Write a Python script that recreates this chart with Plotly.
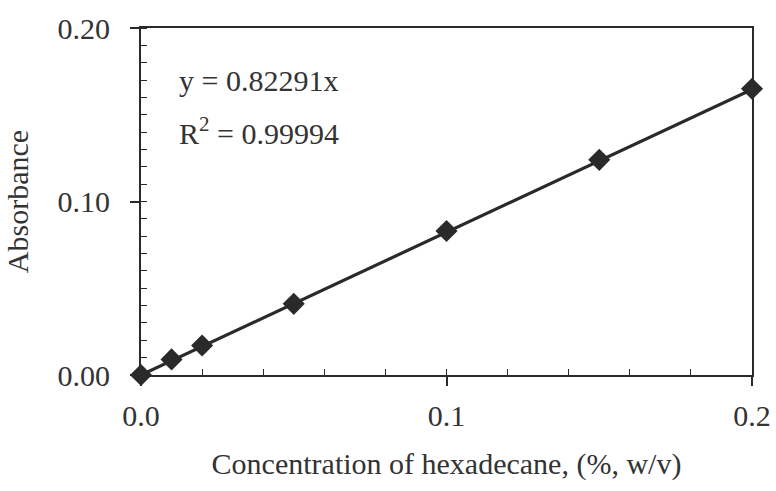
import plotly.graph_objects as go

# Calibration data: hexadecane concentration vs absorbance
concentration = [0.0, 0.01, 0.02, 0.05, 0.10, 0.15, 0.20]
absorbance = [0.0, 0.009, 0.017, 0.041, 0.083, 0.124, 0.165]

slope = 0.82291
r_squared = 0.99994
fit_x = [0.0, 0.2]
fit_y = [slope * v for v in fit_x]

x_ticks = [0.0, 0.1, 0.2]
x_tick_text = ["0.0", "0.1", "0.2"]
y_ticks = [0.0, 0.10, 0.20]
y_tick_text = ["0.00", "0.10", "0.20"]

ink = "#2a2a2a"
text_ink = "#333333"
font_family = "Liberation Serif, Times New Roman, serif"
font_size = 30

fig = go.Figure()
fig.add_trace(go.Scatter(
    x=fit_x, y=fit_y, mode="lines",
    line=dict(color=ink, width=3.2), hoverinfo="skip", showlegend=False,
))
fig.add_trace(go.Scatter(
    x=concentration, y=absorbance, mode="markers",
    marker=dict(symbol="diamond", size=17, color=ink),
    showlegend=False, cliponaxis=False,
))

# Trendline equation and goodness of fit
fig.add_annotation(
    x=0.0118, y=0.170, xref="x", yref="y", xanchor="left", yanchor="middle",
    showarrow=False, text=f"y = {slope}x",
    font=dict(family=font_family, size=font_size, color=text_ink),
)
fig.add_annotation(
    x=0.0118, y=0.1405, xref="x", yref="y", xanchor="left", yanchor="middle",
    showarrow=False, text=f"R<sup>2</sup> = {r_squared}",
    font=dict(family=font_family, size=font_size, color=text_ink),
)

axis_common = dict(
    showgrid=False, zeroline=False, showline=True, linecolor=ink, linewidth=2,
    mirror=True, ticks="outside", ticklen=9, tickwidth=1.5, tickcolor=ink,
    tickfont=dict(family=font_family, size=font_size, color=text_ink),
    automargin=False,
)

fig.update_xaxes(
    range=[0, 0.2], tickvals=x_ticks, ticktext=x_tick_text,
    minor=dict(ticks="inside", dtick=0.02, tick0=0, ticklen=6, tickwidth=1.2, tickcolor=ink),
    ticklabelstandoff=4,
    title=dict(text="Concentration of hexadecane, (%, w/v)",
               font=dict(family=font_family, size=font_size, color=text_ink), standoff=22),
    **axis_common,
)
fig.update_yaxes(
    range=[0, 0.20], tickvals=y_ticks, ticktext=y_tick_text,
    minor=dict(ticks="inside", dtick=0.01, tick0=0, ticklen=6, tickwidth=1.2, tickcolor=ink),
    ticklabelstandoff=14,
    title=dict(text="Absorbance",
               font=dict(family=font_family, size=font_size, color=text_ink), standoff=20),
    **axis_common,
)

fig.update_layout(
    width=776, height=491,
    margin=dict(l=141, r=24, t=28, b=116),
    paper_bgcolor="white", plot_bgcolor="white",
)

fig.write_html("out.html")
